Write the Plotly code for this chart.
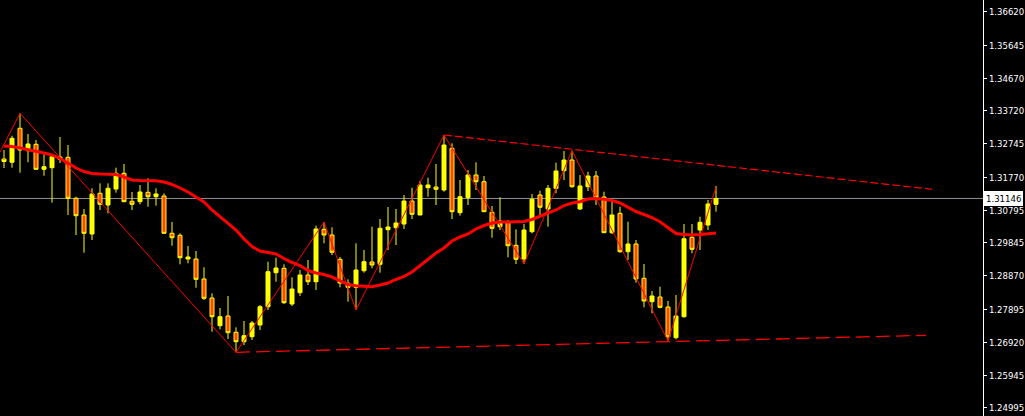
import plotly.graph_objects as go

# ---- data (prices) ----
idx = list(range(90))
opens = [1.32304, 1.32208, 1.33206, 1.32548, 1.32736, 1.32002, 1.32049, 1.32363, 1.32354, 1.31151,
         1.30661, 1.30103, 1.31298, 1.30954, 1.31424, 1.31885, 1.31063, 1.31051, 1.31327, 1.31198,
         1.31218, 1.30123, 1.30065, 1.29369, 1.29369, 1.28782, 1.28224, 1.27411, 1.27696, 1.27217,
         1.26941, 1.27088, 1.27431, 1.27969, 1.28967, 1.29096, 1.28048, 1.28380, 1.28899, 1.28702,
         1.30241, 1.30073, 1.29360, 1.28655, 1.28538, 1.29025, 1.29281, 1.29213, 1.30229, 1.30288,
         1.30396, 1.31071, 1.30661, 1.31462, 1.31482, 1.31394, 1.32619, 1.30728, 1.31168, 1.31835,
         1.31638, 1.30740, 1.30317, 1.30464, 1.29771, 1.29369, 1.30170, 1.31248, 1.30837, 1.31444,
         1.31961, 1.32275, 1.30837, 1.31491, 1.31805, 1.31189, 1.30141, 1.30710, 1.29583, 1.29809,
         1.28802, 1.28115, 1.28253, 1.27960, 1.27059, 1.27675, 1.30006, 1.30220, 1.30367, 1.30975]
highs = [1.32569, 1.32988, 1.33646, 1.33038, 1.32862, 1.32442, 1.32422, 1.32950, 1.32715, 1.31198,
         1.30837, 1.31444, 1.31591, 1.31591, 1.32049, 1.32158, 1.31336, 1.31541, 1.31738, 1.31444,
         1.31298, 1.30455, 1.30123, 1.29750, 1.29604, 1.29125, 1.28362, 1.27930, 1.28283, 1.27364,
         1.27549, 1.27549, 1.28018, 1.29290, 1.29407, 1.29213, 1.28832, 1.29046, 1.29339, 1.30346,
         1.30455, 1.30299, 1.29428, 1.28773, 1.29830, 1.29633, 1.30317, 1.30543, 1.30895, 1.30837,
         1.31248, 1.31462, 1.31659, 1.31755, 1.32158, 1.33009, 1.32765, 1.31688, 1.31982, 1.32208,
         1.31805, 1.30925, 1.31180, 1.30514, 1.30241, 1.30396, 1.31277, 1.31374, 1.31541, 1.32196,
         1.32539, 1.32548, 1.31835, 1.31932, 1.31952, 1.31345, 1.31051, 1.30904, 1.30464, 1.29927,
         1.29222, 1.28429, 1.28556, 1.28136, 1.28312, 1.30396, 1.30396, 1.30611, 1.31101, 1.31512]
lows = [1.32040, 1.32049, 1.31902, 1.32208, 1.31982, 1.31814, 1.31022, 1.32187, 1.30661, 1.30073,
        1.29554, 1.29927, 1.30807, 1.30710, 1.31315, 1.31040, 1.30807, 1.30975, 1.30904, 1.30934,
        1.30115, 1.29759, 1.29213, 1.29243, 1.28526, 1.28165, 1.27235, 1.27305, 1.27020, 1.26630,
        1.26844, 1.26991, 1.27285, 1.27872, 1.28702, 1.28048, 1.27989, 1.28283, 1.28606, 1.28459,
        1.29830, 1.29486, 1.28538, 1.28115, 1.27872, 1.28967, 1.29096, 1.28967, 1.29633, 1.29780,
        1.30250, 1.30543, 1.30655, 1.31198, 1.30954, 1.31345, 1.30543, 1.30640, 1.30954, 1.31394,
        1.30750, 1.29994, 1.30220, 1.29419, 1.29222, 1.29222, 1.30123, 1.30631, 1.30317, 1.31298,
        1.31688, 1.31462, 1.30807, 1.31365, 1.30954, 1.30135, 1.30103, 1.29554, 1.29339, 1.28673,
        1.27951, 1.27775, 1.27922, 1.26962, 1.27012, 1.27646, 1.29536, 1.29633, 1.30220, 1.30757]
closes = [1.32231, 1.32912, 1.32569, 1.32745, 1.32002, 1.32078, 1.32372, 1.32296, 1.31151, 1.30640,
          1.30123, 1.31277, 1.30975, 1.31444, 1.31885, 1.31051, 1.30975, 1.31336, 1.31198, 1.31277,
          1.30123, 1.29994, 1.29407, 1.29428, 1.28773, 1.28215, 1.27675, 1.27675, 1.27205, 1.26941,
          1.27117, 1.27490, 1.27969, 1.28996, 1.29105, 1.28086, 1.28488, 1.28899, 1.28702, 1.30250,
          1.30073, 1.29566, 1.28664, 1.28538, 1.29046, 1.29290, 1.29193, 1.30270, 1.30308, 1.30426,
          1.31071, 1.30681, 1.31541, 1.31541, 1.31415, 1.32715, 1.30757, 1.31198, 1.31835, 1.31638,
          1.30757, 1.30270, 1.30484, 1.29759, 1.29360, 1.30220, 1.31121, 1.30887, 1.31444, 1.31952,
          1.32275, 1.31491, 1.31512, 1.31805, 1.31180, 1.30141, 1.30661, 1.29583, 1.29809, 1.28782,
          1.28136, 1.28283, 1.27951, 1.27088, 1.27696, 1.29965, 1.29654, 1.30446, 1.30983, 1.31146]
ma = [1.32686, 1.32671, 1.32627, 1.32583, 1.32539, 1.32481, 1.32422, 1.32319, 1.32187, 1.32040,
      1.31937, 1.31879, 1.31864, 1.31864, 1.31849, 1.31776, 1.31688, 1.31673, 1.31673, 1.31668,
      1.31629, 1.31556, 1.31453, 1.31336, 1.31189, 1.31042, 1.30807, 1.30611, 1.30426, 1.30220,
      1.29956, 1.29736, 1.29604, 1.29560, 1.29516, 1.29384, 1.29266, 1.29178, 1.29031, 1.28958,
      1.28914, 1.28840, 1.28738, 1.28620, 1.28585, 1.28562, 1.28556, 1.28606, 1.28664, 1.28767,
      1.28855, 1.28987, 1.29178, 1.29369, 1.29545, 1.29692, 1.29897, 1.30015, 1.30103, 1.30250,
      1.30352, 1.30426, 1.30455, 1.30455, 1.30455, 1.30470, 1.30528, 1.30631, 1.30719, 1.30807,
      1.30939, 1.31013, 1.31051, 1.31130, 1.31145, 1.31121, 1.31086, 1.31013, 1.30895, 1.30763,
      1.30675, 1.30587, 1.30464, 1.30294, 1.30117, 1.30088, 1.30073, 1.30088, 1.30112, 1.30132]
zigzag_x = [-0.5, 2, 29, 40, 44, 55, 65, 71, 83, 89]
zigzag_y = [1.32510, 1.33646, 1.26630, 1.30455, 1.27872, 1.33009, 1.29222, 1.32548, 1.26962, 1.31482]
upper_line_x = [55, 116]
upper_line_y = [1.33009, 1.31415]
lower_line_x = [29, 115.25]
lower_line_y = [1.26630, 1.27129]
current_price = 1.31146
tick_values = [1.36620, 1.35645, 1.34670, 1.33720, 1.32745, 1.31770, 1.30795,
               1.29845, 1.28870, 1.27895, 1.26920, 1.25945, 1.24995]
tick_labels = [f"{v:.5f}" for v in tick_values]

FONT = "Tahoma, 'Liberation Sans Narrow', 'DejaVu Sans Condensed', 'Liberation Sans', Arial, sans-serif"

fig = go.Figure()
fig.add_trace(go.Candlestick(
    x=idx, open=opens, high=highs, low=lows, close=closes,
    increasing=dict(line=dict(color="#ffff00", width=1), fillcolor="#ffff00"),
    decreasing=dict(line=dict(color="#ffff00", width=1), fillcolor="#ff4500"),
    whiskerwidth=0, showlegend=False, hoverinfo="skip"))
fig.add_trace(go.Scatter(x=zigzag_x, y=zigzag_y, mode="lines",
                         line=dict(color="#ff0000", width=1), showlegend=False, hoverinfo="skip"))
fig.add_trace(go.Scatter(x=idx, y=ma, mode="lines",
                         line=dict(color="#ff0000", width=3), showlegend=False, hoverinfo="skip"))
fig.add_trace(go.Scatter(x=upper_line_x, y=upper_line_y, mode="lines",
                         line=dict(color="#ff0000", width=1.2, dash="8px,3px"),
                         showlegend=False, hoverinfo="skip"))
fig.add_trace(go.Scatter(x=lower_line_x, y=lower_line_y, mode="lines",
                         line=dict(color="#ff0000", width=1.3, dash="14px,6px"),
                         showlegend=False, hoverinfo="skip"))

fig.add_shape(type="line", xref="paper", x0=0, x1=1, yref="y",
              y0=current_price, y1=current_price,
              line=dict(color="#8c9096", width=1), layer="below")

fig.add_annotation(xref="paper", x=1, xanchor="left", xshift=1, yref="y", y=current_price,
                   text=f"{current_price:.5f}", showarrow=False,
                   font=dict(color="#000000", size=9.5, family=FONT),
                   bgcolor="#ffffff", borderpad=0, bordercolor="#ffffff", borderwidth=2)

fig.update_layout(
    width=1025, height=416,
    margin=dict(l=0, r=42, t=0, b=0, pad=0, autoexpand=False),
    paper_bgcolor="#000000", plot_bgcolor="#000000",
    boxgap=0.5, boxgroupgap=0,
    xaxis=dict(range=[-0.5, 122.375], visible=False, showgrid=False,
               rangeslider=dict(visible=False), fixedrange=True),
    yaxis=dict(range=[1.24760, 1.36972], side="right", showgrid=False, zeroline=False,
               tickvals=tick_values, ticktext=tick_labels, automargin=False,
               ticks="outside", ticklen=3, tickcolor="#ffffff",
               showline=True, linecolor="#ffffff", linewidth=1,
               tickfont=dict(color="#ffffff", size=9.5, family=FONT),
               fixedrange=True),
)

fig.write_html("out.html", config={"displayModeBar": False},
               post_script="document.body.style.margin='0';document.body.style.overflow='hidden';document.body.style.background='#000';")
